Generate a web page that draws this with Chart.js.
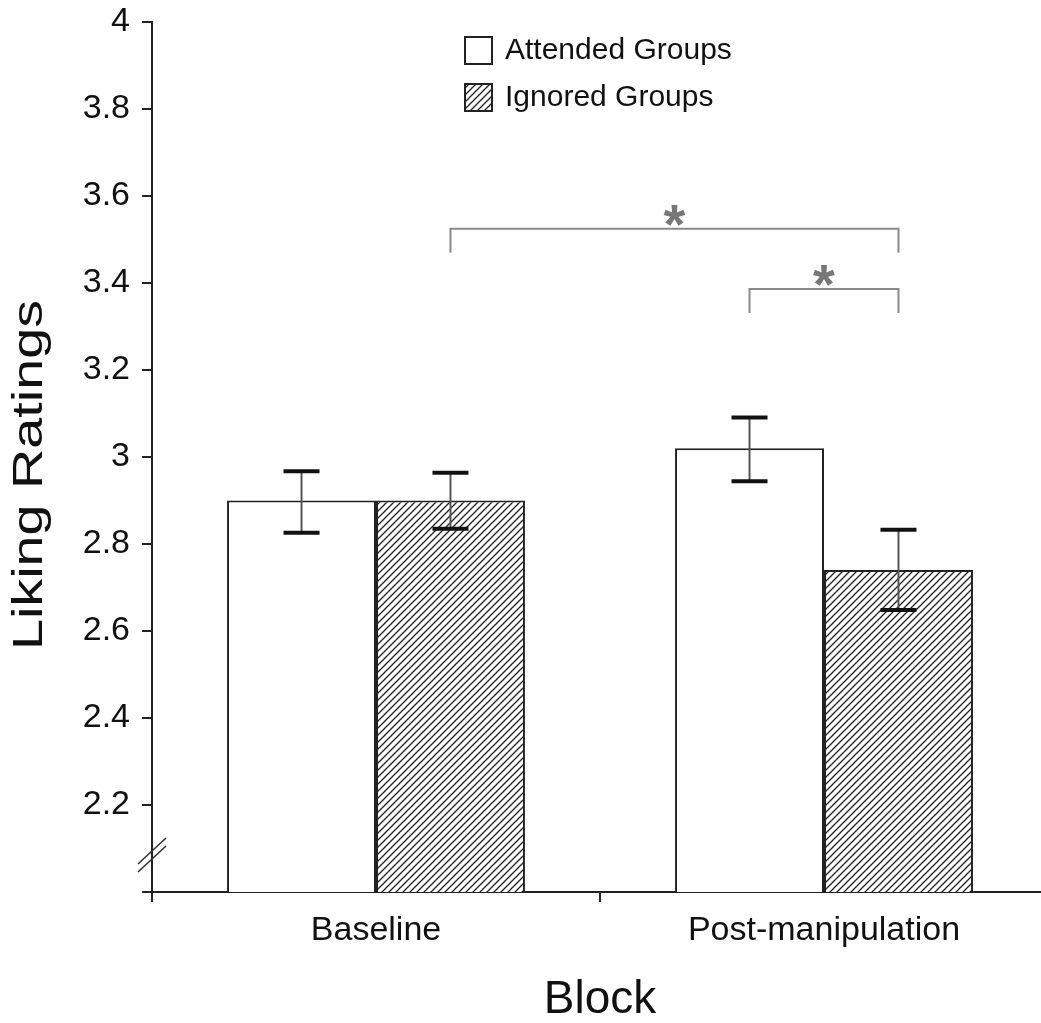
<!DOCTYPE html>
<html>
<head>
<meta charset="utf-8">
<title>Liking Ratings by Block</title>
<script src="https://cdn.jsdelivr.net/npm/chart.js@4.4.1/dist/chart.umd.min.js"></script>
<style>
    html, body { margin: 0; padding: 0; background: #fff; overflow: hidden; }
    #wrap { width: 1041px; height: 1023px; overflow: hidden; }
    #likingChart { display: block; }
</style>
</head>
<body>
<div id="wrap"><canvas id="likingChart" width="1048" height="1023"></canvas></div>
<script>
// ==================== DATA ====================
const blocks = ['Baseline', 'Post-manipulation'];
const seriesNames = ['Attended Groups', 'Ignored Groups'];

const attended = [2.90, 3.02];
const ignored = [2.90, 2.74];

// error bar ends (upper / lower)
const attendedErrHigh = [2.967, 3.091];
const attendedErrLow = [2.826, 2.944];
const ignoredErrHigh = [2.964, 2.833];
const ignoredErrLow = [2.835, 2.648];

const yMin = 2;
const yMax = 4;
const yStep = 0.2;

// significance brackets: [blockIndex, seriesIndex] pairs
const sigFrom = [[0, 1], [1, 0]];
const sigTo = [[1, 1], [1, 1]];
const sigLevel = [3.525, 3.386];
const sigMark = ['*', '*'];

// ==================== STYLE ====================
const FONT = "'Liberation Sans', Arial, sans-serif";
const INK = '#111';
const AXIS = '#222';

function makeHatch() {
    const size = 7;
    const c = document.createElement('canvas');
    c.width = size;
    c.height = size;
    const g = c.getContext('2d');
    g.fillStyle = '#fff';
    g.fillRect(0, 0, size, size);
    g.strokeStyle = '#222';
    g.lineWidth = 1.3;
    g.beginPath();
    g.moveTo(0, size); g.lineTo(size, 0);
    g.moveTo(-1, 1); g.lineTo(1, -1);
    g.moveTo(size - 1, size + 1); g.lineTo(size + 1, size - 1);
    g.stroke();
    return g.createPattern(c, 'repeat');
}

function line(ctx, x1, y1, x2, y2) {
    ctx.beginPath();
    ctx.moveTo(x1, y1);
    ctx.lineTo(x2, y2);
    ctx.stroke();
}

// --- error bars ---
const errorBars = {
    id: 'errorBars',
    afterDatasetsDraw(chart) {
        const ctx = chart.ctx;
        const y = chart.scales.y;
        const highs = [attendedErrHigh, ignoredErrHigh];
        const lows = [attendedErrLow, ignoredErrLow];
        chart.data.datasets.forEach((ds, i) => {
            chart.getDatasetMeta(i).data.forEach((bar, j) => {
                const top = y.getPixelForValue(highs[i][j]);
                const bot = y.getPixelForValue(lows[i][j]);
                ctx.save();
                ctx.strokeStyle = '#555';
                ctx.lineWidth = 2;
                line(ctx, bar.x, top, bar.x, bot);
                ctx.strokeStyle = '#111';
                ctx.lineWidth = 4;
                line(ctx, bar.x - 18, top, bar.x + 18, top);
                line(ctx, bar.x - 18, bot, bar.x + 18, bot);
                ctx.restore();
            });
        });
    }
};

// --- brackets, legend, y title, axis break ---
const extras = {
    id: 'extras',
    afterDraw(chart) {
        const ctx = chart.ctx;
        const y = chart.scales.y;
        const area = chart.chartArea;

        // significance brackets
        ctx.save();
        ctx.strokeStyle = '#8a8a8a';
        ctx.lineWidth = 2;
        ctx.fillStyle = '#777';
        ctx.font = 'bold 56px ' + FONT;
        ctx.textAlign = 'center';
        ctx.textBaseline = 'alphabetic';
        sigLevel.forEach((lvl, k) => {
            const a = chart.getDatasetMeta(sigFrom[k][1]).data[sigFrom[k][0]];
            const b = chart.getDatasetMeta(sigTo[k][1]).data[sigTo[k][0]];
            const yy = y.getPixelForValue(lvl);
            ctx.beginPath();
            ctx.moveTo(a.x, yy + 24);
            ctx.lineTo(a.x, yy);
            ctx.lineTo(b.x, yy);
            ctx.lineTo(b.x, yy + 24);
            ctx.stroke();
            ctx.fillText(sigMark[k], (a.x + b.x) / 2, yy + 14);
        });
        ctx.restore();

        // legend (inside plot)
        ctx.save();
        ctx.font = '30px ' + FONT;
        ctx.textBaseline = 'middle';
        ctx.textAlign = 'left';
        chart.data.datasets.forEach((ds, i) => {
            const bx = 465, by = 37 + i * 47;
            ctx.fillStyle = ds.backgroundColor;
            ctx.fillRect(bx, by, 27, 27);
            ctx.strokeStyle = '#222';
            ctx.lineWidth = 2;
            ctx.strokeRect(bx, by, 27, 27);
            ctx.fillStyle = INK;
            ctx.fillText(ds.label, 505, by + 14);
        });
        ctx.restore();

        // y axis title
        ctx.save();
        ctx.font = '42px ' + FONT;
        ctx.fillStyle = INK;
        ctx.textAlign = 'center';
        ctx.textBaseline = 'alphabetic';
        const txt = 'Liking Ratings';
        const w = ctx.measureText(txt).width;
        ctx.translate(42, 475);
        ctx.rotate(-Math.PI / 2);
        ctx.scale(350 / w, 1);
        ctx.fillText(txt, 0, 0);
        ctx.restore();

        // axis break marks
        ctx.save();
        ctx.strokeStyle = '#333';
        ctx.lineWidth = 1.6;
        const yb = y.getPixelForValue(2.085);
        [-4, 4].forEach(off => {
            line(ctx, area.left - 14, yb + off + 13, area.left + 14, yb + off - 13);
        });
        ctx.restore();
    }
};

// ==================== CHART ====================
document.addEventListener('DOMContentLoaded', () => {
    const ctx = document.getElementById('likingChart').getContext('2d');

    new Chart(ctx, {
        type: 'bar',
        data: {
            labels: blocks,
            datasets: [
                {
                    label: seriesNames[0],
                    data: attended,
                    backgroundColor: '#ffffff',
                    borderColor: '#222',
                    borderWidth: 2
                },
                {
                    label: seriesNames[1],
                    data: ignored,
                    backgroundColor: makeHatch(),
                    borderColor: '#222',
                    borderWidth: 2
                }
            ]
        },
        options: {
            responsive: false,
            animation: false,
            devicePixelRatio: 1,
            categoryPercentage: 0.665,
            barPercentage: 1,
            layout: { padding: { top: 22, right: 0, bottom: 0, left: 0 } },
            plugins: {
                legend: { display: false },
                tooltip: { enabled: false }
            },
            scales: {
                x: {
                    grid: {
                        drawOnChartArea: false,
                        tickLength: 10,
                        color: AXIS,
                        lineWidth: 2,
                        offset: true
                    },
                    border: { color: AXIS, width: 2 },
                    ticks: {
                        color: INK,
                        padding: 8,
                        font: { family: FONT, size: 34 }
                    },
                    title: {
                        display: true,
                        text: 'Block',
                        color: INK,
                        padding: 0,
                        font: { family: FONT, size: 46, lineHeight: 1 }
                    },
                    afterFit(scale) { scale.height = 131; }
                },
                y: {
                    min: yMin,
                    max: yMax,
                    grid: {
                        drawOnChartArea: false,
                        tickLength: 10,
                        color: AXIS,
                        lineWidth: 2
                    },
                    border: { color: AXIS, width: 2 },
                    ticks: {
                        stepSize: yStep,
                        color: INK,
                        padding: 12,
                        font: { family: FONT, size: 34 },
                        callback: v => (Math.abs(v - yMin) < 1e-6 ? '' : String(Math.round(v * 10) / 10))
                    },
                    afterFit(scale) {
                        scale.width = 152;
                        scale.paddingTop = 0;
                        scale.paddingBottom = 0;
                    }
                }
            }
        },
        plugins: [errorBars, extras]
    });
});
</script>
</body>
</html>
